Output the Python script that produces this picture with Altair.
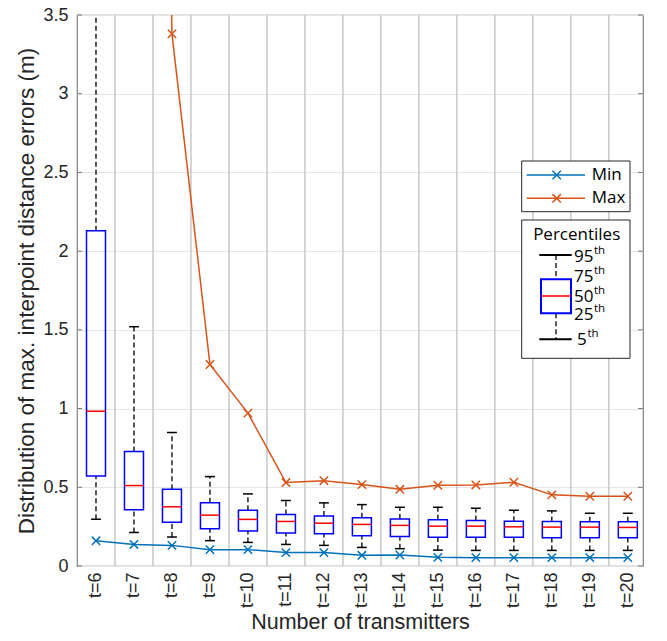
import altair as alt
import pandas as pd

# ---------------- data ----------------
t_vals = list(range(6, 21))
p95 = [4.00, 1.52, 0.848, 0.568, 0.458, 0.416, 0.401, 0.390, 0.373, 0.373, 0.367, 0.354, 0.350, 0.335, 0.335]
p75 = [2.13, 0.728, 0.487, 0.401, 0.354, 0.327, 0.317, 0.306, 0.298, 0.293, 0.289, 0.285, 0.283, 0.281, 0.281]
p50 = [0.983, 0.511, 0.376, 0.323, 0.296, 0.283, 0.272, 0.264, 0.258, 0.253, 0.253, 0.249, 0.247, 0.247, 0.245]
p25 = [0.572, 0.357, 0.278, 0.237, 0.222, 0.209, 0.205, 0.192, 0.188, 0.182, 0.182, 0.182, 0.180, 0.180, 0.180]
p5 = [0.297, 0.213, 0.184, 0.161, 0.150, 0.137, 0.131, 0.118, 0.110, 0.101, 0.099, 0.099, 0.099, 0.099, 0.099]
min_err = [0.160, 0.137, 0.131, 0.104, 0.104, 0.085, 0.085, 0.068, 0.070, 0.055, 0.053, 0.053, 0.053, 0.053, 0.053]
max_err = [25.0, 20.0, 3.38, 1.28, 0.971, 0.530, 0.542, 0.517, 0.487, 0.513, 0.515, 0.532, 0.452, 0.443, 0.443]
y_ticks = [0, 0.5, 1, 1.5, 2, 2.5, 3, 3.5]

df = pd.DataFrame({"t": t_vals, "p95": p95, "p75": p75, "p50": p50,
                   "p25": p25, "p5": p5, "mn": min_err, "mx": max_err})
tick_df = pd.DataFrame({"v": y_ticks})
one = pd.DataFrame({"a": [0]})

# ---------------- layout / style ----------------
W, H = 566, 551
AX_FONT = "Liberation Sans"
LG_FONT = "Open Sans"
TXT = "#262626"
C_MIN = "#0072BD"
C_MAX = "#D95319"
HALF_BOX = 0.25
HALF_CAP = 0.13

xscale = alt.Scale(domain=[5.5, 20.4], nice=False, zero=False)
yscale = alt.Scale(domain=[0, 3.5], nice=False, zero=True)

x_axis = alt.Axis(values=t_vals, labelExpr="'t=' + datum.value", labelAngle=270,
                  labelAlign="right", labelBaseline="middle", labelPadding=6,
                  ticks=False, grid=False, domain=False,
                  title="Number of transmitters", titleFontSize=21.5, labelFontSize=18,
                  titlePadding=4, labelFont=AX_FONT, titleFont=AX_FONT,
                  labelColor=TXT, titleColor=TXT, titleFontWeight="normal")
y_axis = alt.Axis(values=y_ticks, format="~g", grid=True, gridColor="#e6e6e6",
                  gridWidth=1, ticks=False, domain=False, labelPadding=9,
                  title="Distribution of max. interpoint distance errors (m)",
                  titleFontSize=22.5, labelFontSize=18, titlePadding=4,
                  labelFont=AX_FONT, titleFont=AX_FONT, labelColor=TXT,
                  titleColor=TXT, titleFontWeight="normal")

X = lambda f: alt.X(f, scale=xscale, axis=x_axis)
Y = lambda f: alt.Y(f, scale=yscale, axis=y_axis)

base = alt.Chart(df).transform_calculate(
    x1=f"datum.t - {HALF_BOX}", x2=f"datum.t + {HALF_BOX}",
    c1=f"datum.t - {HALF_CAP}", c2=f"datum.t + {HALF_CAP}")

vgrid = alt.Chart(df).transform_filter("datum.t < 20").transform_calculate(
    b="datum.t + 0.5").mark_rule(color="#c8c8c8", strokeWidth=1.5).encode(x=X("b:Q"))

whisk_up = base.mark_rule(color="black", strokeWidth=1.3, strokeDash=[5, 3], clip=True).encode(
    x=X("t:Q"), y=Y("p75:Q"), y2="p95:Q")
whisk_lo = base.mark_rule(color="black", strokeWidth=1.3, strokeDash=[5, 3], clip=True).encode(
    x=X("t:Q"), y=Y("p5:Q"), y2="p25:Q")
cap_up = base.mark_rule(color="black", strokeWidth=1.5, clip=True).encode(
    x=X("c1:Q"), x2="c2:Q", y=Y("p95:Q"))
cap_lo = base.mark_rule(color="black", strokeWidth=1.5, clip=True).encode(
    x=X("c1:Q"), x2="c2:Q", y=Y("p5:Q"))
box = base.mark_rect(fillOpacity=0, stroke="#0000FF", strokeWidth=1.5, clip=True).encode(
    x=X("x1:Q"), x2="x2:Q", y=Y("p25:Q"), y2="p75:Q")
med = base.mark_rule(color="#FF0000", strokeWidth=1.5, clip=True).encode(
    x=X("x1:Q"), x2="x2:Q", y=Y("p50:Q"))

XSHAPE = "M-1,-1L1,1M-1,1L1,-1"
min_line = base.mark_line(color=C_MIN, strokeWidth=1.5, clip=True).encode(x=X("t:Q"), y=Y("mn:Q"))
min_pts = base.mark_point(shape=XSHAPE, size=70, filled=False, color=C_MIN, strokeWidth=1.5,
                          opacity=1, clip=True).encode(x=X("t:Q"), y=Y("mn:Q"))
max_line = base.mark_line(color=C_MAX, strokeWidth=1.5, clip=True).encode(x=X("t:Q"), y=Y("mx:Q"))
max_pts = base.mark_point(shape=XSHAPE, size=70, filled=False, color=C_MAX, strokeWidth=1.5,
                          opacity=1, clip=True).encode(x=X("t:Q"), y=Y("mx:Q"))

ticks_l = alt.Chart(tick_df).mark_rule(color="#777", strokeWidth=1).encode(
    x=alt.value(0), x2=alt.value(5), y=Y("v:Q"))
ticks_r = alt.Chart(tick_df).mark_rule(color="#777", strokeWidth=1).encode(
    x=alt.value(W - 5), x2=alt.value(W), y=Y("v:Q"))

# ---------------- legends (drawn in pixel space) ----------------
OY = -2  # vertical offset of legend relative to first layout

def prule(x1, x2, y1, y2, color="black", width=1.5, dash=None):
    kw = dict(color=color, strokeWidth=width)
    if dash:
        kw["strokeDash"] = dash
    return alt.Chart(one).mark_rule(**kw).encode(
        x=alt.value(x1), x2=alt.value(x2), y=alt.value(y1 + OY), y2=alt.value(y2 + OY))

def prect(x1, x2, y1, y2, fill, stroke, width):
    return alt.Chart(one).mark_rect(fill=fill, stroke=stroke, strokeWidth=width).encode(
        x=alt.value(x1), x2=alt.value(x2), y=alt.value(y1 + OY), y2=alt.value(y2 + OY))

def ptext(s, x, y, size=16.5, align="left", baseline="middle"):
    return alt.Chart(one).mark_text(text=s, font=LG_FONT, fontSize=size, color="black",
                                    align=align, baseline=baseline).encode(
        x=alt.value(x), y=alt.value(y + OY))

def ppoint(x, y, color):
    return alt.Chart(one).mark_point(shape=XSHAPE, size=70, filled=False, color=color,
                                     strokeWidth=1.5, opacity=1).encode(
        x=alt.value(x), y=alt.value(y + OY))

LX1, LX2 = 444.7, 553
legend = [
    prect(LX1, LX2, 148, 198.7, "white", "#262626", 1),
    prule(449.7, 508, 162, 162, C_MIN), ppoint(479.7, 162, C_MIN), ptext("Min", 514.7, 162, size=17),
    prule(449.7, 508, 185.3, 185.3, C_MAX), ppoint(479.7, 185.3, C_MAX), ptext("Max", 514.7, 185.3, size=17),
    prect(LX1, LX2, 207, 345.3, "white", "#262626", 1),
    ptext("Percentiles", 499.7, 222, size=17, align="center"),
    prule(479, 479, 242, 266.3, dash=[5, 3], width=1.3),
    prule(479, 479, 300.3, 326.3, dash=[5, 3], width=1.3),
    prule(462.3, 494.7, 242, 242, width=2),
    prule(462.3, 494.7, 326.3, 326.3, width=2),
    prect(464, 494, 266.3, 300.3, "white", "#0000FF", 2),
    prule(464, 494, 283, 283, color="#FF0000", width=1.5),
]
for num, lx, ly in [("95", 497, 243.7), ("75", 497, 263.7), ("50", 497, 283.7),
                    ("25", 497, 302), ("5", 500, 327)]:
    legend.append(ptext(num, lx, ly, size=17))
    legend.append(ptext("th", lx + (20 if len(num) == 2 else 10.5), ly - 6, size=11.5))

chart = alt.layer(vgrid, whisk_up, whisk_lo, cap_up, cap_lo, box, med,
                  min_line, max_line, min_pts, max_pts, ticks_l, ticks_r, *legend).properties(
    width=W, height=H,
    autosize=alt.AutoSizeParams(type="none"),
    padding={"left": 69, "top": 7, "right": 16, "bottom": 67},
).configure_view(stroke="#808080", strokeWidth=1.2)

chart.save("out.html", embed_options={"renderer": "svg", "actions": False})
